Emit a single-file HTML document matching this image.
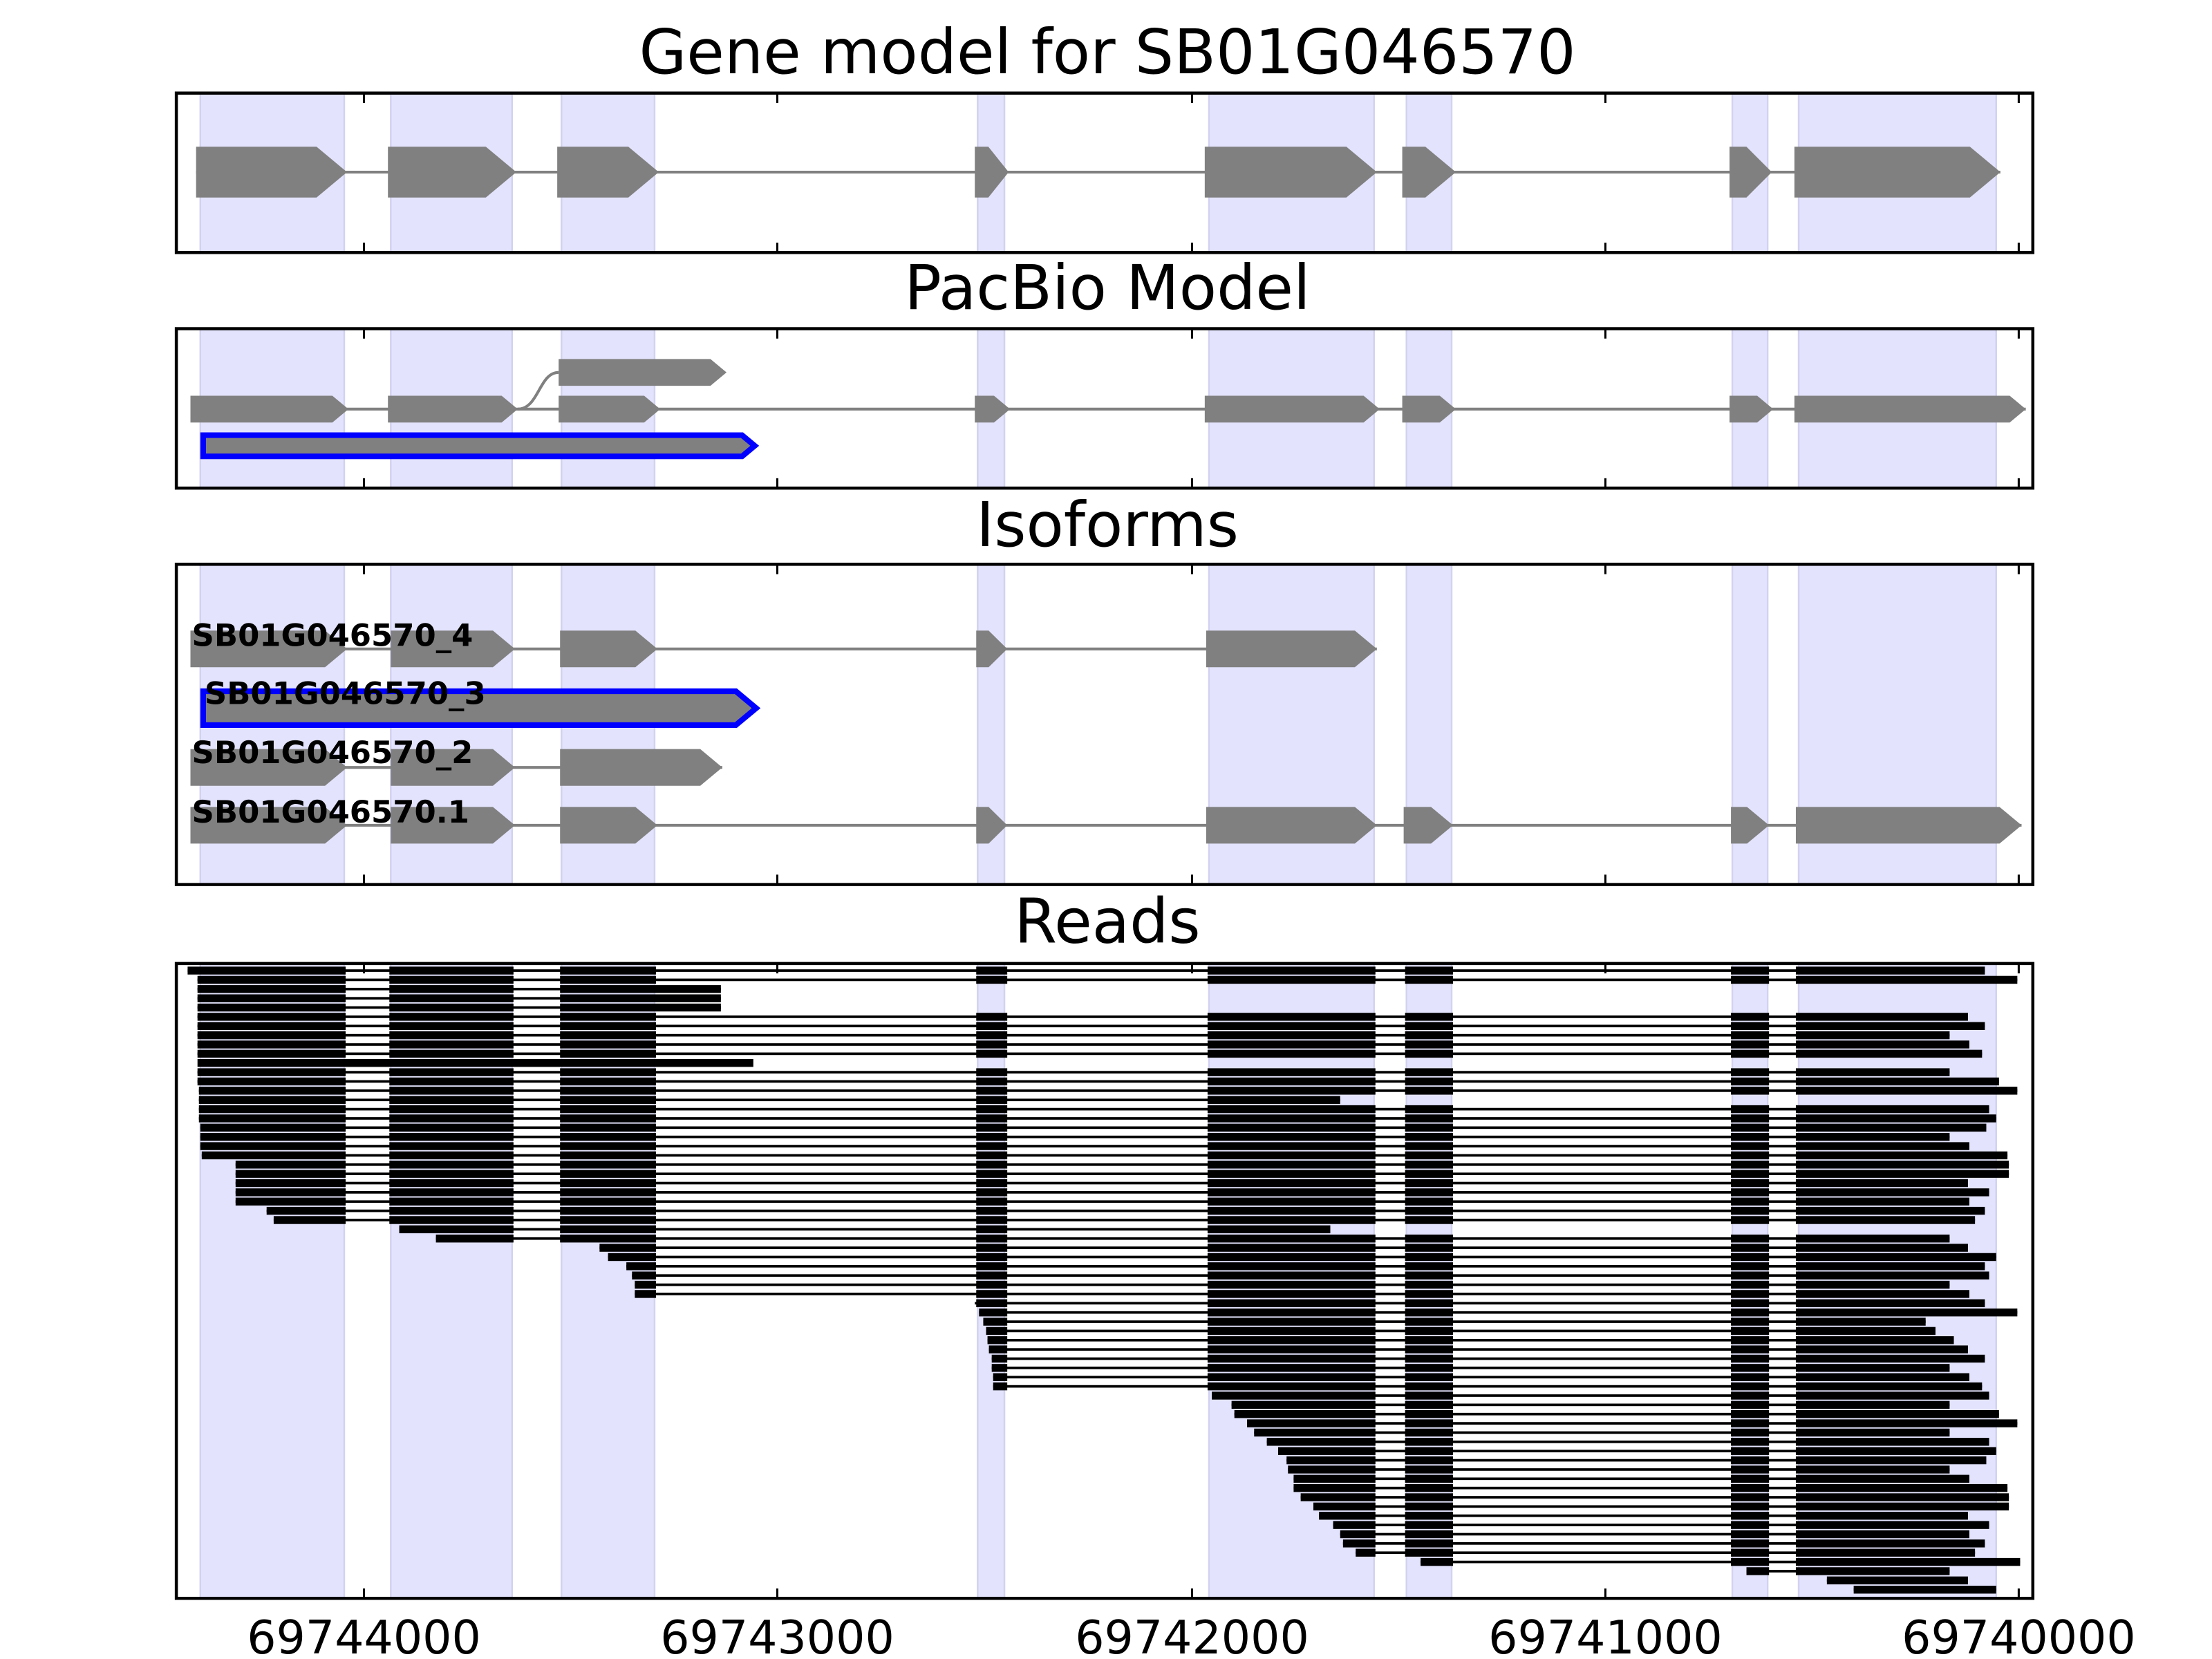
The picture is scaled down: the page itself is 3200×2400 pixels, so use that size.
<!DOCTYPE html>
<html><head><meta charset="utf-8"><style>
html,body{margin:0;padding:0;background:#fff;}
svg{display:block;}
text{font-family:"DejaVu Sans","Liberation Sans",sans-serif;}
</style></head><body>
<svg id="s" xmlns="http://www.w3.org/2000/svg" width="3200" height="2400" viewBox="0 0 1568 1176">
<rect width="1568" height="1176" fill="#fff"/>
<g id="shade"></g>
<g id="feat"></g>
<g id="reads"></g>
<g id="frame"></g>
<g font-size="43.5" text-anchor="middle" fill="#000">
<text x="785" y="52">Gene model for SB01G046570</text>
<text x="785" y="219">PacBio Model</text>
<text x="785" y="387">Isoforms</text>
<text x="785" y="668">Reads</text>
</g>
<g font-size="32.6" text-anchor="middle" fill="#000">
<text x="258" y="1172">69744000</text>
<text x="551" y="1172">69743000</text>
<text x="845" y="1172">69742000</text>
<text x="1138" y="1172">69741000</text>
<text x="1431" y="1172">69740000</text>
</g>
<g font-size="22" font-weight="bold" fill="#000">
<text x="136" y="458">SB01G046570_4</text>
<text x="145" y="499">SB01G046570_3</text>
<text x="136" y="541">SB01G046570_2</text>
<text x="136" y="583">SB01G046570.1</text>
</g>
</svg>
<script>
var NS="http://www.w3.org/2000/svg";
function el(p,t,a){var e=document.createElementNS(NS,t);for(var k in a)e.setAttribute(k,a[k]);document.getElementById(p).appendChild(e);return e;}
var panels=[[66,179],[233,346],[400,627],[683,1133]];
var shades=[[142,244],[277,363],[398,464],[693,712],[857,974],[997,1029],[1228,1253],[1275,1415]];
panels.forEach(function(p){
 shades.forEach(function(s){
  el("shade","rect",{x:s[0],y:p[0],width:s[1]-s[0],height:p[1]-p[0],fill:"#e3e3fd",stroke:"#d2d2f0","stroke-width":1.2});
 });
 el("frame","rect",{x:125,y:p[0],width:1316,height:p[1]-p[0],fill:"none",stroke:"#000","stroke-width":2.2});
 [258,551,845,1138,1431].forEach(function(x){
  el("frame","line",{x1:x,x2:x,y1:p[0],y2:p[0]+7,stroke:"#000","stroke-width":1.5});
  el("frame","line",{x1:x,x2:x,y1:p[1],y2:p[1]-7,stroke:"#000","stroke-width":1.5});
 });
});
var G="#808080";
function arrow(x1,x2,y,h,fill,stroke){
 var t=Math.min(h*0.6,(x2-x1)*0.6);
 var pts=[[x1,y-h/2],[x2-t,y-h/2],[x2,y],[x2-t,y+h/2],[x1,y+h/2]].map(function(p){return p.join(",")}).join(" ");
 var a={points:pts,fill:fill||G};
 if(stroke){a.stroke=stroke;a["stroke-width"]=4;}
 el("feat","polygon",a);
}
function model(y,h,ex,lineTo){
 el("feat","line",{x1:ex[0][0],x2:lineTo||ex[ex.length-1][1],y1:y,y2:y,stroke:G,"stroke-width":2});
 ex.forEach(function(e){arrow(e[0],e[1],y,h);});
}
model(122,36,[[139,246],[275,366],[395,467],[691,715],[854,976],[994,1032],[1226,1256],[1272,1418]]);
model(290,19,[[135,247],[275,367],[396,468],[691,716],[854,978],[994,1032],[1226,1257],[1272,1436]]);
arrow(396,515,264,19);
el("feat","path",{d:"M367,290 C382,290 382,264 396,264",fill:"none",stroke:G,"stroke-width":2});
arrow(144,535,316,15,G,"#0000ff");
model(460,26,[[135,246],[277,365],[397,466],[692,714],[855,976]]);
arrow(144,536,502,24,G,"#0000ff");
model(544,26,[[135,246],[277,365],[397,512]]);
model(585,26,[[135,246],[277,365],[397,466],[692,714],[855,976],[995,1030],[1227,1254],[1273,1433]]);
var E=[[133,245],[276,364],[397,465],[692,714],[856,975],[996,1030],[1227,1254],[1273,9999]];
var starts=[133,140,140,140,140,140,140,140,140,140,140,140,140,141,141,141,141,142,142,142,143,167,167,167,167,167,189,194,283,309,425,431,444,448,450,450,
691,694,697,699,700,701,703,703,704,704,
859,873,875,884,889,898,906,912,913,917,917,922,931,935,945,950,952,961,1007,1238,1295,1314];
var ends=[1407,1430,1365,1372,1385,1395,1407,1382,1396,1405,1410,1382,1417,1430,1382,1410,1415,1408,1382,1396,1423,1424,1424,1395,1410,1396,1407,1400,1432,1382,1395,1415,1407,1410,1382,1396];
for(var i=0;i<starts.length;i++){
 var y=688+i*6.55,s=starts[i],e=ends[i%ends.length];
 if(i>=2&&i<=4)e=511;
 if(i==14)e=950;
 if(i==28)e=943;
 if(i==10){el("reads","rect",{x:140,y:y-2.8,width:394,height:5.6,fill:"#000"});continue;}
 el("reads","rect",{x:s,y:y-0.9,width:e-s,height:1.8,fill:"#000"});
 E.forEach(function(x,k){
  var a=Math.max(x[0],s),b=Math.min(x[1],e);
  if(i>=2&&i<=4&&k==2)b=511;
  if(b>a)el("reads","rect",{x:a,y:y-2.8,width:b-a,height:5.6,fill:"#000"});
 });
}
</script>
</body></html>
